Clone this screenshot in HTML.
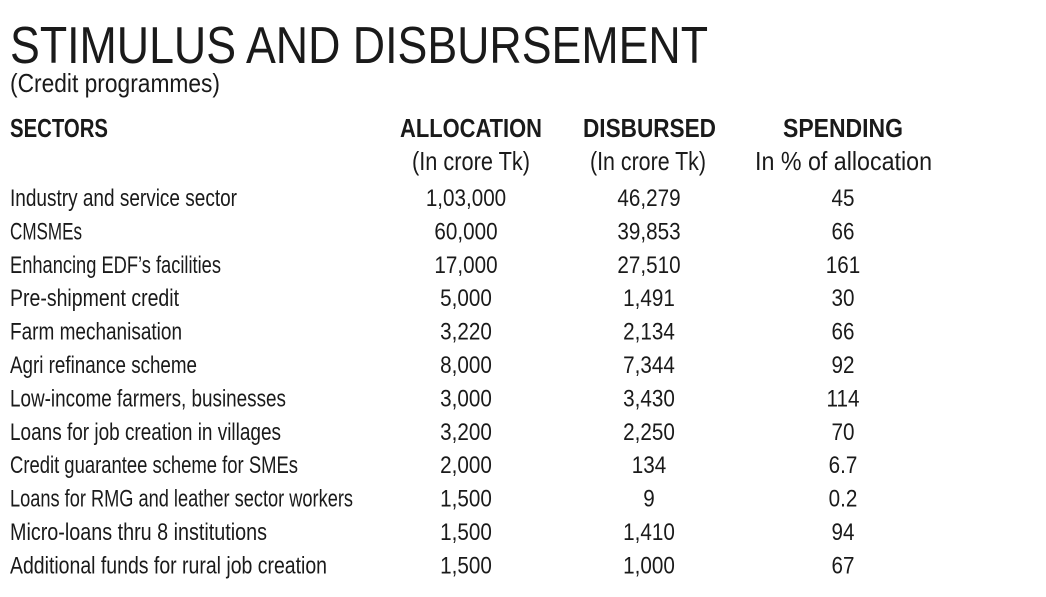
<!DOCTYPE html>
<html><head><meta charset="utf-8"><style>
html,body{margin:0;padding:0;background:#fff;}
svg{display:block;}
text{font-family:"Liberation Sans Narrow","Liberation Sans",sans-serif;fill:#1a1a1a;}
</style></head><body>
<svg width="1046" height="597" viewBox="0 0 1046 597">
<text x="10" y="63" font-size="52" textLength="698" lengthAdjust="spacingAndGlyphs">STIMULUS AND DISBURSEMENT</text>
<text x="10" y="92" font-size="26" textLength="210" lengthAdjust="spacingAndGlyphs">(Credit programmes)</text>
<g font-weight="bold" font-size="26">
<text x="10" y="137" textLength="98" lengthAdjust="spacingAndGlyphs">SECTORS</text>
<text x="400" y="137" textLength="142" lengthAdjust="spacingAndGlyphs">ALLOCATION</text>
<text x="583" y="137" textLength="133" lengthAdjust="spacingAndGlyphs">DISBURSED</text>
<text x="783" y="137" textLength="120" lengthAdjust="spacingAndGlyphs">SPENDING</text>
</g>
<g font-size="26">
<text x="412" y="170" textLength="118" lengthAdjust="spacingAndGlyphs">(In crore Tk)</text>
<text x="590" y="170" textLength="116" lengthAdjust="spacingAndGlyphs">(In crore Tk)</text>
<text x="755" y="170" textLength="177" lengthAdjust="spacingAndGlyphs">In % of allocation</text>
</g>
<g id="rows" font-size="24"></g>
<g id="nums" font-size="24" transform="scale(0.86,1)"></g>
</svg>
<script>
const sectors=["Industry and service sector","CMSMEs","Enhancing EDF’s facilities","Pre-shipment credit","Farm mechanisation","Agri refinance scheme","Low-income farmers, businesses","Loans for job creation in villages","Credit guarantee scheme for SMEs","Loans for RMG and leather sector workers","Micro-loans thru 8 institutions","Additional funds for rural job creation"];
const allocation=["1,03,000","60,000","17,000","5,000","3,220","8,000","3,000","3,200","2,000","1,500","1,500","1,500"];
const disbursed=["46,279","39,853","27,510","1,491","2,134","7,344","3,430","2,250","134","9","1,410","1,000"];
const spending=["45","66","161","30","66","92","114","70","6.7","0.2","94","67"];
const nameWidths=[227,72,211,169,172,187,276,271,288,343,257,317];
const g=document.getElementById('rows');
const gn=document.getElementById('nums');
const NS='http://www.w3.org/2000/svg';
const SX=0.86;
function t(par,x,y,s,anchor,w){const e=document.createElementNS(NS,'text');e.setAttribute('x',x);e.setAttribute('y',y);e.textContent=s;if(anchor)e.setAttribute('text-anchor',anchor);if(w){e.setAttribute('textLength',w);e.setAttribute('lengthAdjust','spacingAndGlyphs');}par.appendChild(e);return e;}
sectors.forEach((s,i)=>{
 const y=206+i*33.4;
 let e=t(g,10,y,s,null,nameWidths[i]);
 
 
 e=t(gn,466/SX,y,allocation[i],'middle');
 
 
 e=t(gn,649/SX,y,disbursed[i],'middle');
 
 
 e=t(gn,843/SX,y,spending[i],'middle');
 
 
});
</script>
</body></html>
